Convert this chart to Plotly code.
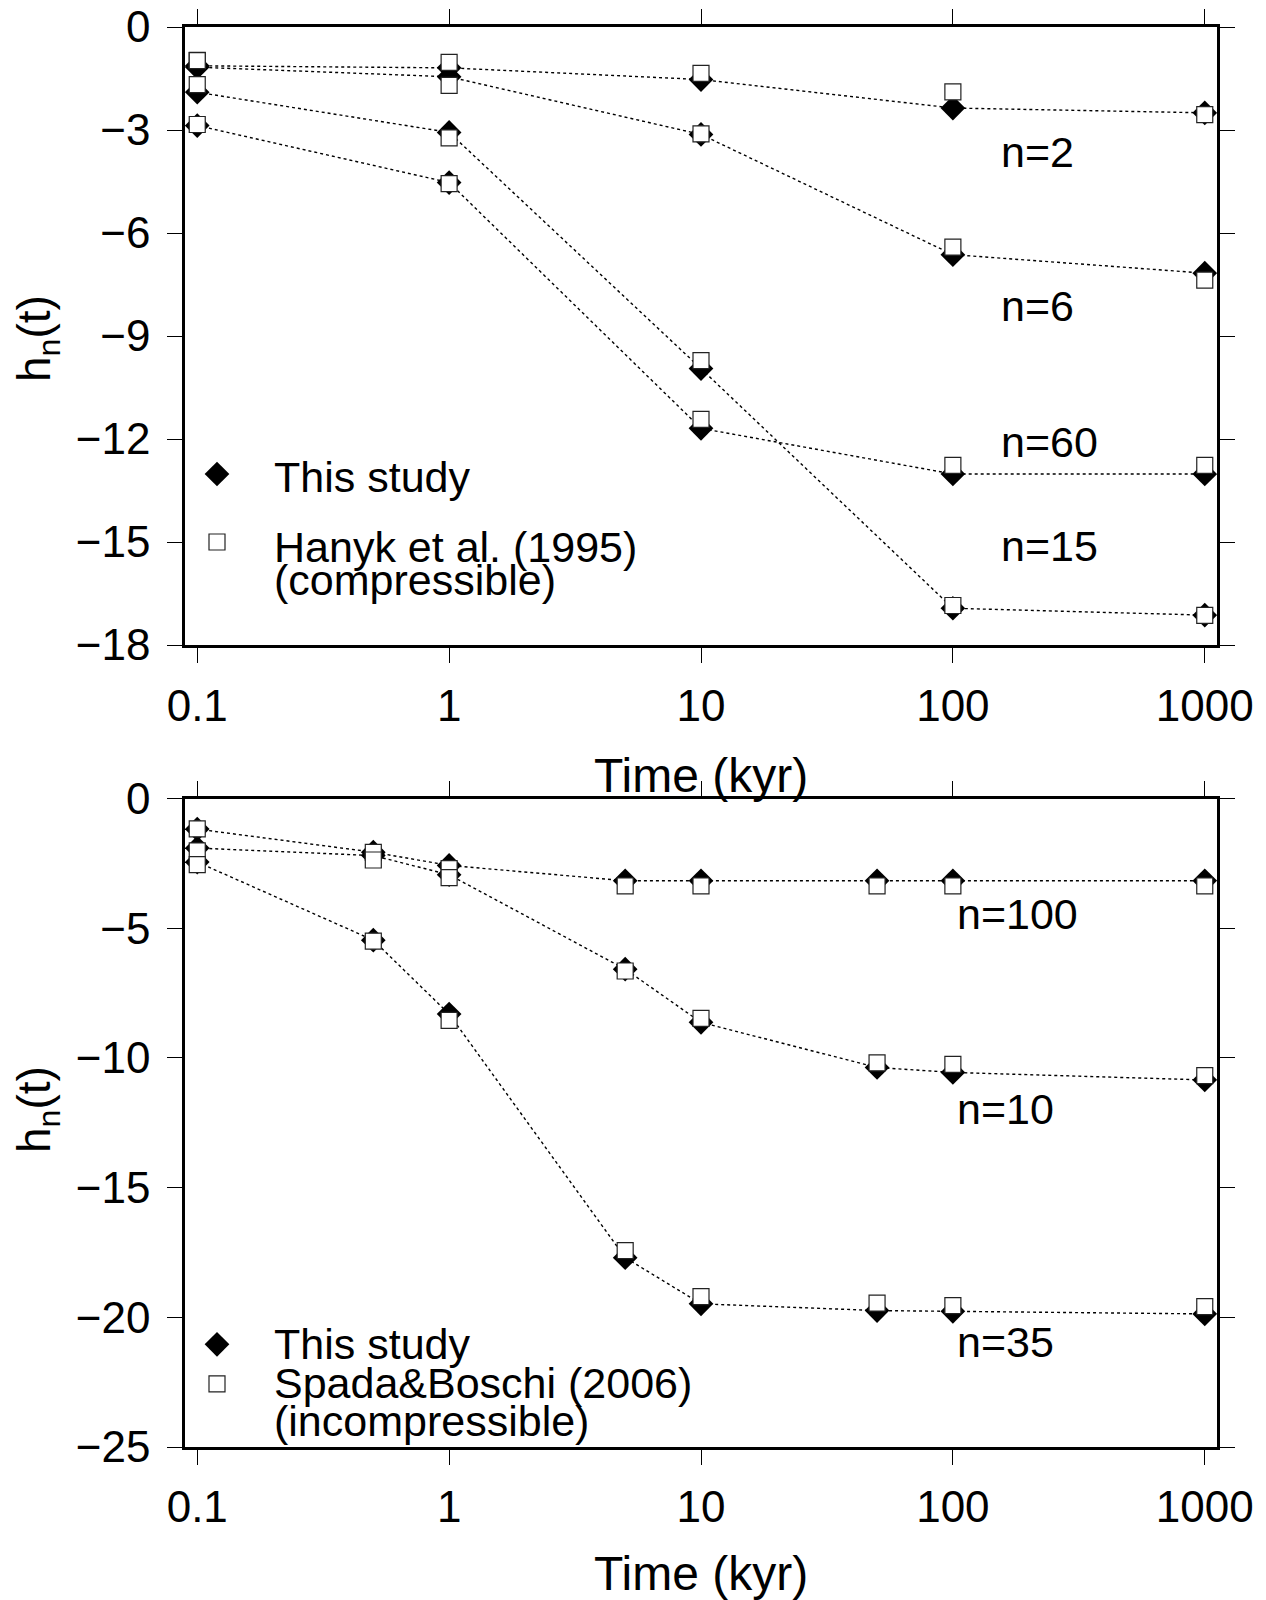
import plotly.graph_objects as go

# ---------------- data: top panel (compressible, Hanyk et al. 1995) ----------------
time_top = [0.1, 1, 10, 100, 1000]
labels_top = ["n=2", "n=6", "n=15", "n=60"]

study_n2 = [-1.13, -1.19, -1.53, -2.36, -2.50]
study_n6 = [-1.17, -1.45, -3.13, -6.63, -7.17]
study_n15 = [-1.90, -3.07, -9.95, -16.93, -17.13]
study_n60 = [-2.87, -4.53, -11.69, -13.02, -13.02]

hanyk_n2 = [-0.97, -1.03, -1.35, -1.89, -2.55]
hanyk_n6 = [-0.98, -1.70, -3.11, -6.41, -7.37]
hanyk_n15 = [-1.68, -3.23, -9.72, -16.85, -17.14]
hanyk_n60 = [-2.84, -4.56, -11.43, -12.77, -12.77]

# ---------------- data: bottom panel (incompressible, Spada & Boschi 2006) ----------------
time_bot = [0.1, 0.5, 1, 5, 10, 50, 100, 1000]
labels_bot = ["n=100", "n=10", "n=35"]

study_n100 = [-1.18, -2.07, -2.58, -3.17, -3.17, -3.17, -3.17, -3.17]
study_n10 = [-1.91, -2.20, -2.94, -6.58, -8.63, -10.37, -10.56, -10.85]
study_n35 = [-2.45, -5.46, -8.31, -17.70, -19.48, -19.74, -19.77, -19.87]

spada_n100 = [-1.17, -2.08, -2.70, -3.37, -3.37, -3.37, -3.37, -3.37]
spada_n10 = [-2.02, -2.37, -3.05, -6.65, -8.48, -10.19, -10.25, -10.68]
spada_n35 = [-2.55, -5.50, -8.55, -17.43, -19.20, -19.45, -19.55, -19.59]

x_tickvals = [0.1, 1, 10, 100, 1000]
x_ticktext = ["0.1", "1", "10", "100", "1000"]

# ---------------- styling / layout constants ----------------
FONT = "Liberation Sans, Arial, Helvetica, sans-serif"
W, H = 1266, 1600
X0, X1 = 185, 1217          # plot area (pixels)
Y0, Y1 = 27, 1447
LOGMIN, LOGMAX = -1.0486, 3.0486
TOP_DOMAIN = [(Y1 - 645) / (Y1 - Y0), 1.0]
BOT_DOMAIN = [0.0, (Y1 - 798.5) / (Y1 - Y0)]


def px(x):
    return (x - X0) / (X1 - X0)


def py(y):
    return (Y1 - y) / (Y1 - Y0)


def px_to_time(x):
    return 10 ** (LOGMIN + (x - X0) / (X1 - X0) * (LOGMAX - LOGMIN))


fig = go.Figure()

panels = [
    ("x", "y", time_top,
     [study_n2, study_n6, study_n15, study_n60],
     [hanyk_n2, hanyk_n6, hanyk_n15, hanyk_n60]),
    ("x2", "y2", time_bot,
     [study_n100, study_n10, study_n35],
     [spada_n100, spada_n10, spada_n35]),
]

DIAMOND = dict(symbol="diamond", size=19, color="black", line=dict(width=0))
SQUARE = dict(symbol="square", size=16, color="white", line=dict(width=1.2, color="#222"))

for xa, ya, t, studies, refs in panels:
    for s in studies:
        fig.add_trace(go.Scatter(x=t, y=s, mode="lines", xaxis=xa, yaxis=ya,
                                 line=dict(color="black", width=1.4, dash="dot"),
                                 showlegend=False, hoverinfo="skip"))
    for s in studies:
        fig.add_trace(go.Scatter(x=t, y=s, mode="markers", xaxis=xa, yaxis=ya,
                                 marker=DIAMOND, showlegend=False, name="This study"))
    for r in refs:
        fig.add_trace(go.Scatter(x=t, y=r, mode="markers", xaxis=xa, yaxis=ya,
                                 marker=SQUARE, showlegend=False))

# legend keys (drawn manually to mimic the original tight legend)
key_x = px_to_time(217)
fig.add_trace(go.Scatter(x=[key_x], y=[-13.02], mode="markers", xaxis="x", yaxis="y",
                         marker=DIAMOND, showlegend=False, hoverinfo="skip"))
fig.add_trace(go.Scatter(x=[key_x], y=[-15.0], mode="markers", xaxis="x", yaxis="y",
                         marker=SQUARE, showlegend=False, hoverinfo="skip"))
fig.add_trace(go.Scatter(x=[key_x], y=[-21.04], mode="markers", xaxis="x2", yaxis="y2",
                         marker=DIAMOND, showlegend=False, hoverinfo="skip"))
fig.add_trace(go.Scatter(x=[key_x], y=[-22.57], mode="markers", xaxis="x2", yaxis="y2",
                         marker=SQUARE, showlegend=False, hoverinfo="skip"))

axis_common = dict(showline=True, linewidth=2.5, linecolor="black", mirror="allticks",
                   ticks="outside", ticklen=15, tickwidth=1.2, tickcolor="black",
                   showgrid=False, zeroline=False, automargin=False,
                   tickfont=dict(family=FONT, size=44, color="black"))

xaxis_common = dict(axis_common, type="log", range=[LOGMIN, LOGMAX],
                    tickvals=x_tickvals, ticktext=x_ticktext, domain=[0, 1])

fig.update_layout(
    width=W, height=H,
    margin=dict(l=X0, r=W - X1, t=Y0, b=H - Y1, autoexpand=False),
    paper_bgcolor="white", plot_bgcolor="white",
    showlegend=False,
    font=dict(family=FONT, color="black"),
    xaxis=dict(xaxis_common, anchor="y", ticklabelstandoff=5),
    yaxis=dict(axis_common, range=[-18, 0], tick0=0, dtick=3, domain=TOP_DOMAIN,
               anchor="x", ticklabelstandoff=8),
    xaxis2=dict(xaxis_common, anchor="y2", ticklabelstandoff=4),
    yaxis2=dict(axis_common, range=[-25, 0], tick0=0, dtick=5, domain=BOT_DOMAIN,
                anchor="x2", ticklabelstandoff=8),
)

ann = []


def add_text(text, x, y, size=43, xanchor="left", angle=0):
    ann.append(dict(text=text, x=px(x), y=py(y), xref="paper", yref="paper",
                    xanchor=xanchor, yanchor="middle", showarrow=False,
                    textangle=angle, font=dict(family=FONT, size=size, color="black")))


# axis titles
add_text("Time (kyr)", 701, 775, size=48, xanchor="center")
add_text("Time (kyr)", 701, 1573, size=48, xanchor="center")
add_text("h<sub>n</sub>(t)", 37, 339, size=46, xanchor="center", angle=-90)
add_text("h<sub>n</sub>(t)", 37, 1110, size=46, xanchor="center", angle=-90)

# degree labels
for lab, y in zip(labels_top, [152, 306, 546, 442]):
    add_text(lab, 999, y)
for lab, y in zip(labels_bot, [914, 1109, 1342]):
    add_text(lab, 955, y)

# legend texts
add_text("This study", 272, 477)
add_text("Hanyk et al. (1995)", 272, 547)
add_text("(compressible)", 272, 580)
add_text("This study", 272, 1344)
add_text("Spada&amp;Boschi (2006)", 272, 1383)
add_text("(incompressible)", 272, 1421)

fig.update_layout(annotations=ann)

fig.write_html("out.html")
